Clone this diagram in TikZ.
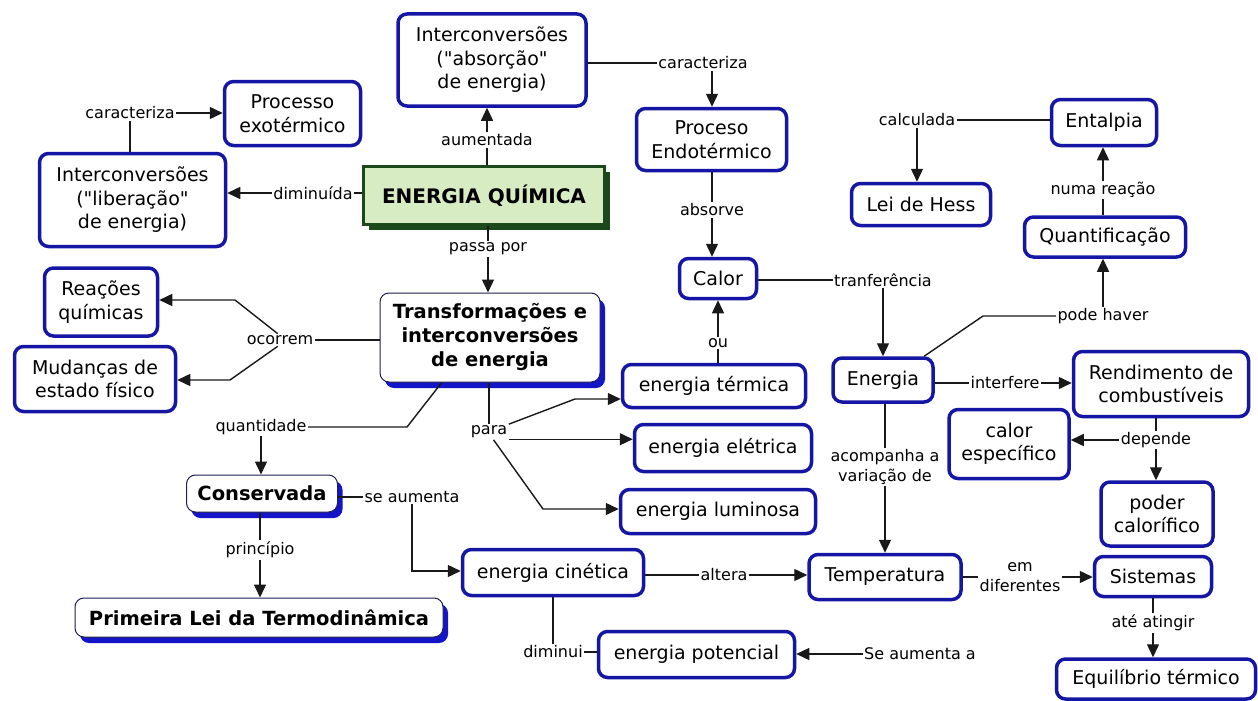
\documentclass[tikz,border=0pt]{standalone}
\usepackage{fontspec}
\setmainfont{DejaVu Sans}[Ligatures=TeXOff]
\usetikzlibrary{arrows.meta,shadows}
\definecolor{cblue}{RGB}{22,22,165}
\definecolor{sblue}{RGB}{20,20,200}
\definecolor{gfill}{RGB}{216,236,196}
\definecolor{gdraw}{RGB}{28,72,28}
\definecolor{navy}{RGB}{30,30,80}
\tikzset{
  concept/.style={draw=cblue, line width=3.5pt, rounded corners=9pt, fill=white,
    align=center, inner sep=2pt, font=\fontsize{19}{23.5}\selectfont},
  bconcept/.style={draw=navy, line width=1pt, rounded corners=9pt, fill=white,
    align=center, inner sep=2pt, font=\fontsize{19.5}{24}\selectfont\bfseries,
    drop shadow={shadow xshift=5pt, shadow yshift=-6pt, fill=sblue, opacity=1}},
  maincpt/.style={draw=gdraw, line width=3pt, fill=gfill, align=center,
    font=\fontsize{20}{24}\selectfont\bfseries,
    drop shadow={shadow xshift=5pt, shadow yshift=-5pt, fill=gdraw, opacity=1}},
  lbl/.style={fill=white, inner sep=1.5pt, align=center, font=\fontsize{16}{20}\selectfont},
  link/.style={draw=black!90, line width=1.4pt},
  arr/.style={link, -{Triangle[length=13pt,width=12pt]}}
}
\begin{document}
\begin{tikzpicture}[x=1pt,y=-1pt]
\fill[white] (0,0) rectangle (1258,701);
\useasboundingbox (0,0) rectangle (1258,701);

% concepts
\node[concept, minimum width=136pt, minimum height=64pt] (exo) at (292.5,113.5) {Processo\\exotérmico};
\node[concept, minimum width=186pt, minimum height=93pt] (lib) at (132.5,200) {Interconversões\\("liberação"\\de energia)};
\node[concept, minimum width=188pt, minimum height=92pt] (abs) at (492,60) {Interconversões\\("absorção"\\de energia)};
\node[maincpt, minimum width=241pt, minimum height=58pt] (eq) at (484,195.5) {ENERGIA QUÍMICA};
\node[concept, minimum width=150pt, minimum height=62pt] (endo) at (711.5,139.5) {Proceso\\Endotérmico};
\node[concept, minimum width=105pt, minimum height=46pt] (ent) at (1104,122.5) {Entalpia};
\node[concept, minimum width=139pt, minimum height=42pt] (hess) at (921,204.5) {Lei de Hess};
\node[concept, minimum width=161pt, minimum height=40pt] (quant) at (1105,237) {Quantificação};
\node[concept, minimum width=77pt, minimum height=40pt] (calor) at (718,278.5) {Calor};
\node[bconcept, minimum width=220pt, minimum height=89pt] (trans) at (490,337.5) {Transformações e\\interconversões\\de energia};
\node[concept, minimum width=113pt, minimum height=68pt] (reac) at (101,302) {Reações\\químicas};
\node[concept, minimum width=161pt, minimum height=65pt] (mud) at (95,379) {Mudanças de\\estado físico};
\node[concept, minimum width=183pt, minimum height=43pt] (term) at (714,386) {energia térmica};
\node[concept, minimum width=100pt, minimum height=44pt] (energia) at (883,380) {Energia};
\node[concept, minimum width=175pt, minimum height=65pt] (rend) at (1161,384) {Rendimento de\\combustíveis};
\node[concept, minimum width=120pt, minimum height=69pt] (cesp) at (1009,444) {calor\\específico};
\node[concept, minimum width=177pt, minimum height=47pt] (elet) at (723,448) {energia elétrica};
\node[concept, minimum width=195pt, minimum height=44pt] (lum) at (718,511.5) {energia luminosa};
\node[bconcept, minimum width=151pt, minimum height=37pt] (cons) at (262,493.5) {Conservada};
\node[bconcept, minimum width=368pt, minimum height=39pt] (prim) at (259,617.5) {Primeira Lei da Termodinâmica};
\node[concept, minimum width=112pt, minimum height=64pt] (poder) at (1157,514) {poder\\calorífico};
\node[concept, minimum width=181pt, minimum height=46pt] (cin) at (553,572.5) {energia cinética};
\node[concept, minimum width=152pt, minimum height=45pt] (temp) at (885,577) {Temperatura};
\node[concept, minimum width=117pt, minimum height=40pt] (sist) at (1153,576.5) {Sistemas};
\node[concept, minimum width=196pt, minimum height=46pt] (pot) at (696.5,654.5) {energia potencial};
\node[concept, minimum width=199pt, minimum height=40pt] (equi) at (1156,679) {Equilíbrio térmico};

% linking phrases
\node[lbl] (car1) at (130,113) {caracteriza};
\node[lbl] (dim) at (313,193) {diminuída};
\node[lbl] (aum) at (487,140) {aumentada};
\node[lbl] (car2) at (703,63) {caracteriza};
\node[lbl] (abso) at (712,210) {absorve};
\node[lbl] (passa) at (488,249) {passa por};
\node[lbl] (calc) at (917,120) {calculada};
\node[lbl] (numa) at (1103,190) {numa reação};
\node[lbl] (tranf) at (883,280) {tranferência};
\node[lbl] (pode) at (1103,316) {pode haver};
\node[lbl] (intf) at (1005,383) {interfere};
\node[lbl] (dep) at (1156,440) {depende};
\node[lbl] (oco) at (280,340) {ocorrem};
\node[lbl] (quant2) at (261,427) {quantidade};
\node[lbl] (para) at (489,432) {para};
\node[lbl] (ou) at (718,343) {ou};
\node[lbl] (seaum) at (412,497) {se aumenta};
\node[lbl] (princ) at (260,550) {princípio};
\node[lbl] (alt) at (724,575) {altera};
\node[lbl] (dimi) at (553,652) {diminui};
\node[lbl] (seaa) at (920,654) {Se aumenta a};
\node[lbl] (acomp) at (885,467) {acompanha a\\variação de};
\node[lbl] (emd) at (1020,577) {em\\diferentes};
\node[lbl] (ate) at (1153,623) {até atingir};

% bend points
\coordinate (ob1) at (235,300);
\coordinate (ob2) at (230,380);
\coordinate (qb) at (407,427);
\coordinate (pb1) at (575,399);
\coordinate (pb3) at (543,509);
\coordinate (sb) at (412,571);
\coordinate (pbend) at (983,316);
\coordinate (pe) at (para.-20);

% connectors
\draw[link] (lib.north -| car1) -- (car1);
\draw[arr] (car1) -- (car1 -| exo.west);
\draw[link] (eq.west |- dim) -- (dim);
\draw[arr] (dim) -- (dim -| lib.east);
\draw[link] (eq.north -| aum) -- (aum);
\draw[arr] (aum) -- (aum |- abs.south);
\draw[link] (abs.east |- car2) -- (car2);
\draw[arr] (car2.south -| abso) -- (abso |- endo.north);
\draw[link] (endo.south -| abso) -- (abso);
\draw[arr] (abso) -- (abso |- calor.north);
\draw[link] (eq.south -| passa) -- (passa);
\draw[arr] (passa) -- (passa |- trans.north);
\draw[link] (calor.east |- tranf) -- (tranf);
\draw[arr] (tranf) -- (tranf |- energia.north);
\draw[link] (term.north -| ou) -- (ou);
\draw[arr] (ou) -- (ou |- calor.south);
\draw[link] (ent.west |- calc) -- (calc);
\draw[arr] (calc) -- (calc |- hess.north);
\draw[link] (quant.north -| numa) -- (numa);
\draw[arr] (numa) -- (numa |- ent.south);
\draw[link] (energia.30) -- (pbend) -- (pode);
\draw[arr] (pode) -- (pode |- quant.south);
\draw[link] (energia.east |- intf) -- (intf);
\draw[arr] (intf) -- (intf -| rend.west);
\draw[link] (rend.south -| dep) -- (dep);
\draw[arr] (dep) -- (dep -| cesp.east);
\draw[arr] (dep) -- (dep |- poder.north);
\draw[link] (trans.west |- oco) -- (oco);
\draw[arr] (oco.110) -- (ob1) -- (reac.east |- ob1);
\draw[arr] (oco.250) -- (ob2) -- (mud.east |- ob2);
\draw[link] (trans.223) -- (qb) -- (quant2);
\draw[arr] (quant2) -- (quant2 |- cons.north);
\draw[link] (trans.south -| para) -- (para);
\draw[arr] (para.north east) -- (pb1) -- (term.west |- pb1);
\draw[arr] (pe) -- (pe -| elet.west);
\draw[arr] (para.-60) -- (pb3) -- (lum.west |- pb3);
\draw[link] (cons.east |- seaum) -- (seaum);
\draw[arr] (seaum.south) -- (sb) -- (cin.west |- sb);
\draw[link] (cons.south -| princ) -- (princ);
\draw[arr] (princ) -- (princ |- prim.north);
\draw[link] (cin.east |- alt) -- (alt);
\draw[arr] (alt) -- (alt -| temp.west);
\draw[link] (cin.south -| dimi) -- (dimi);
\draw[link] (dimi) -- (dimi -| pot.west);
\draw[arr] (seaa) -- (seaa -| pot.east);
\draw[link] (energia.south -| acomp) -- (acomp);
\draw[arr] (acomp) -- (acomp |- temp.north);
\draw[link] (temp.east |- emd) -- (emd);
\draw[arr] (emd) -- (emd -| sist.west);
\draw[link] (sist.south -| ate) -- (ate);
\draw[arr] (ate) -- (ate |- equi.north);
\end{tikzpicture}
\end{document}
